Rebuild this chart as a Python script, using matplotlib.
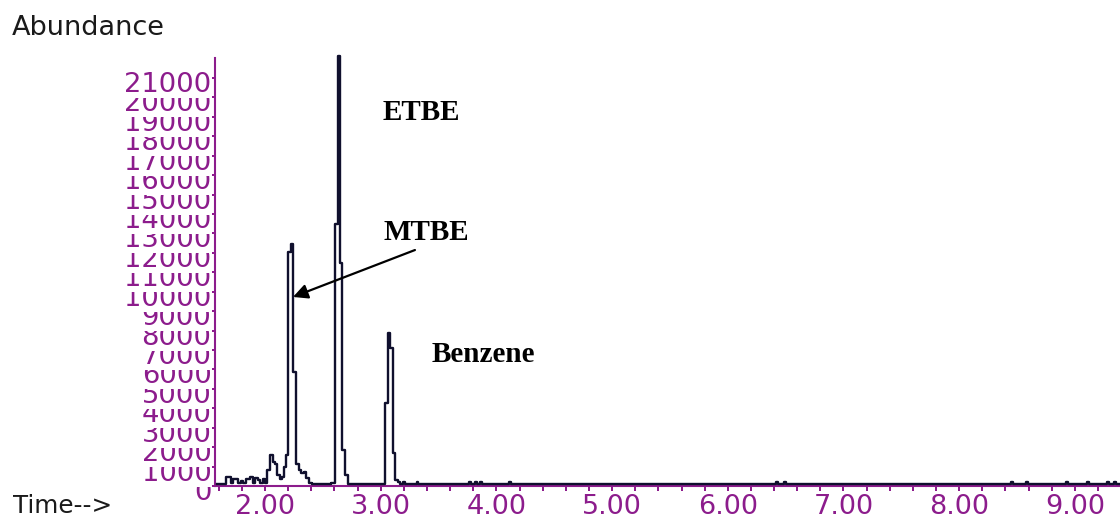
import matplotlib.pyplot as plt
from matplotlib.ticker import MultipleLocator

# Total ion chromatogram: retention time (min) and abundance
time_min = [
    1.585, 1.646, 1.672, 1.698, 1.715, 1.736, 1.758, 1.780, 1.801, 1.827,
    1.853, 1.883, 1.905, 1.927, 1.948, 1.970, 1.991, 2.013, 2.030, 2.056,
    2.078, 2.099, 2.117, 2.138, 2.156, 2.169, 2.186, 2.212, 2.229, 2.251,
    2.281, 2.303, 2.324, 2.346, 2.367, 2.389, 2.415, 2.475, 2.562, 2.583,
    2.622, 2.642, 2.653, 2.674, 2.704, 2.730, 3.029, 3.050, 3.072, 3.093,
    3.115, 3.137, 3.158, 3.184, 3.201, 3.219, 3.305, 3.318, 3.331, 3.760,
    3.772, 3.784, 3.812, 3.824, 3.836, 3.855, 3.867, 3.879, 4.100, 4.118,
    4.136, 6.413, 6.425, 6.437, 6.482, 6.494, 6.506, 8.444, 8.456, 8.468,
    8.574, 8.586, 8.598, 8.920, 8.932, 8.944, 9.101, 9.113, 9.125, 9.274,
    9.286, 9.298, 9.335, 9.347, 9.359, 9.390,
]
abundance = [
    80, 80, 480, 460, 150, 380, 360, 130, 280, 150,
    380, 480, 180, 430, 300, 160, 380, 150, 820, 1600,
    1250, 1150, 570, 340, 450, 1000, 1600, 12040, 12450, 5870,
    1150, 820, 650, 700, 420, 180, 120, 120, 100, 130,
    13500, 22150, 11500, 1850, 570, 100, 80, 4270, 7870, 7100,
    1700, 310, 200, 80, 200, 80, 80, 200, 80, 80,
    220, 80, 80, 220, 80, 80, 200, 80, 80, 200,
    80, 80, 220, 80, 80, 220, 80, 80, 200, 80,
    80, 200, 80, 80, 200, 80, 80, 200, 80, 80,
    200, 80, 80, 200, 80, 80,
]

y_ticks = list(range(0, 22000, 1000))
x_ticks = [2, 3, 4, 5, 6, 7, 8, 9]
x_tick_labels = ['2.00', '3.00', '4.00', '5.00', '6.00', '7.00', '8.00', '9.00']

purple = '#8c1c8c'
trace_color = '#10102e'

fig = plt.figure(figsize=(11.2, 5.17), dpi=100)
ax = fig.add_axes([214.5 / 1120, 31 / 517, (1120 - 214.5) / 1120, 428 / 517])

ax.plot(time_min, abundance, color=trace_color, lw=1.7,
        drawstyle='steps-mid', clip_on=False, zorder=3)

ax.set_xlim(1.5635, 9.39)
ax.set_ylim(0, 22030)

# axes in the instrument style: purple left/bottom spines only
for side in ['top', 'right']:
    ax.spines[side].set_visible(False)
for side in ['left', 'bottom']:
    ax.spines[side].set_color(purple)
    ax.spines[side].set_linewidth(1.5)

ax.set_xticks(x_ticks)
ax.set_xticklabels(x_tick_labels)
ax.xaxis.set_minor_locator(MultipleLocator(0.2))
ax.tick_params(axis='x', which='both', direction='out', length=3.6,
               width=1.44, color=purple, labelcolor=purple,
               labelsize=19.5, pad=2.0)

ax.set_yticks(y_ticks)
ax.tick_params(axis='y', direction='out', length=2.9, width=1.44,
               color=purple, labelleft=False)

# y labels stacked bottom to top, each one hiding the top of the one below
for v in y_ticks:
    ax.annotate(str(v), xy=(0, v), xycoords=('axes fraction', 'data'),
                xytext=(-3, -14), textcoords='offset pixels',
                ha='right', va='baseline', fontsize=19.7, color=purple,
                bbox=dict(fc='white', ec='none', pad=0))

# compound labels
ax.text(3.02, 18837, 'ETBE', fontsize=21, fontweight='bold',
        family='Liberation Serif', ha='left', va='baseline')
ax.text(3.02, 12661, 'MTBE', fontsize=21, fontweight='bold',
        family='Liberation Serif', ha='left', va='baseline')
ax.text(3.443, 6397, 'Benzene', fontsize=21, fontweight='bold',
        family='Liberation Serif', ha='left', va='baseline')
ax.annotate('', xy=(2.242, 9730), xytext=(3.296, 12146),
            arrowprops=dict(arrowstyle='-|>', color='black', lw=1.6,
                            mutation_scale=22, shrinkA=0, shrinkB=0))

fig.text(12 / 1120, 1 - 35 / 517, 'Abundance', fontsize=19.5,
         color='#1a1a1a', ha='left', va='baseline')
fig.text(13 / 1120, 4 / 517, 'Time-->', fontsize=17.7,
         color='#1a1a1a', ha='left', va='baseline')

fig.savefig('out.png', dpi=100)
